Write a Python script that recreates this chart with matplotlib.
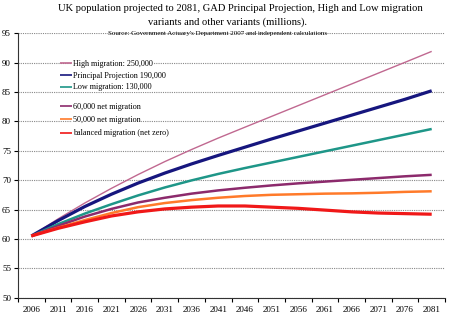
import matplotlib
matplotlib.use("Agg")
import matplotlib.pyplot as plt

years = [2006, 2011, 2016, 2021, 2026, 2031, 2036, 2041, 2046, 2051, 2056, 2061, 2066, 2071, 2076, 2081]
high = [60.5, 63.4, 66.1, 68.6, 70.95, 73.15, 75.2, 77.15, 79.0, 80.84, 82.68, 84.52, 86.36, 88.2, 90.04, 91.9]
principal = [60.5, 63.1, 65.5, 67.6, 69.5, 71.2, 72.75, 74.2, 75.6, 77.0, 78.35, 79.7, 81.05, 82.4, 83.75, 85.2]
low = [60.5, 62.5, 64.3, 65.9, 67.4, 68.75, 69.95, 71.05, 72.05, 73.0, 73.95, 74.9, 75.85, 76.8, 77.75, 78.7]
net60k = [60.5, 62.2, 63.8, 65.1, 66.2, 67.0, 67.7, 68.25, 68.7, 69.1, 69.45, 69.75, 70.05, 70.35, 70.65, 70.9]
net50k = [60.5, 61.9, 63.2, 64.4, 65.4, 66.1, 66.6, 67.0, 67.3, 67.5, 67.6, 67.7, 67.75, 67.85, 68.0, 68.1]
balanced = [60.5, 61.8, 62.9, 63.9, 64.6, 65.1, 65.4, 65.6, 65.6, 65.4, 65.2, 64.9, 64.6, 64.4, 64.3, 64.2]

labels = ["High migration: 250,000", "Principal Projection 190,000", "Low migration: 130,000",
          "60,000 net migration", "50,000 net migration", "balanced migration (net zero)"]
yticks = [50, 55, 60, 65, 70, 75, 80, 85, 90, 95]

serif = ["Liberation Serif", "DejaVu Serif"]
plt.rcParams["font.family"] = serif

fig = plt.figure(figsize=(4.5, 3.25), dpi=100)
ax = fig.add_axes([0.04, 0.084, 0.949, 0.814])

series = [high, principal, low, net60k, net50k, balanced]
colors = ["#c06890", "#16167e", "#1e9688", "#8c2a6c", "#ff7a2a", "#f01818"]
widths = [1.0, 2.3, 1.8, 1.8, 1.8, 2.3]
lines = []
for s, c, w, lab in zip(series, colors, widths, labels):
    ln, = ax.plot(years, s, color=c, lw=w, label=lab, zorder=3,
                  solid_capstyle="butt", solid_joinstyle="round")
    lines.append(ln)

ax.set_xlim(2006 - 2.5, 2081 + 2.5)
ax.set_ylim(50, 95)
ax.set_yticks(yticks)
ax.set_yticklabels([str(v) for v in yticks], fontsize=6.5)
ax.set_xticks(years)
ax.set_xticklabels([str(y) for y in years], fontsize=6.5)
ax.tick_params(axis="x", length=0, pad=6)
ax.set_xticks([y + 2.5 for y in [years[0] - 5] + years], minor=True)
ax.tick_params(axis="x", which="minor", length=3, direction="out", width=0.8)
ax.tick_params(axis="y", length=3, direction="out", width=0.8, pad=2)
ax.grid(axis="y", color="#888888", linestyle=(0, (1, 1)), lw=0.8)
ax.set_axisbelow(True)
for sp in ["top", "right"]:
    ax.spines[sp].set_visible(False)
for sp in ["left", "bottom"]:
    ax.spines[sp].set_color("#333333")
    ax.spines[sp].set_linewidth(0.8)

leg_kw = dict(loc="upper left", frameon=False, fontsize=5.9, handlelength=1.45,
              handletextpad=0.12, borderaxespad=0, borderpad=0)
leg1 = ax.legend(handles=lines[:3], bbox_to_anchor=(0.098, 0.9), labelspacing=0.48, **leg_kw)
ax.add_artist(leg1)
leg2 = ax.legend(handles=lines[3:], bbox_to_anchor=(0.098, 0.735), labelspacing=0.62, **leg_kw)
for lg in (leg1, leg2):
    for h in lg.get_lines():
        h.set_linewidth(1.2)
    for t in lg.get_texts():
        t.set_bbox(dict(facecolor="white", edgecolor="none", pad=0.5))

fig.text(0.535, 0.975, "UK population projected to 2081, GAD Principal Projection, High and Low migration",
         ha="center", va="center", fontsize=7.6)
fig.text(0.505, 0.932, "variants and other variants (millions).", ha="center", va="center", fontsize=7.6)
fig.text(0.483, 0.898, "Source: Government Actuary's Department 2007 and independent calculations",
         ha="center", va="center", fontsize=5.0)

fig.savefig("out.png", dpi=100)
